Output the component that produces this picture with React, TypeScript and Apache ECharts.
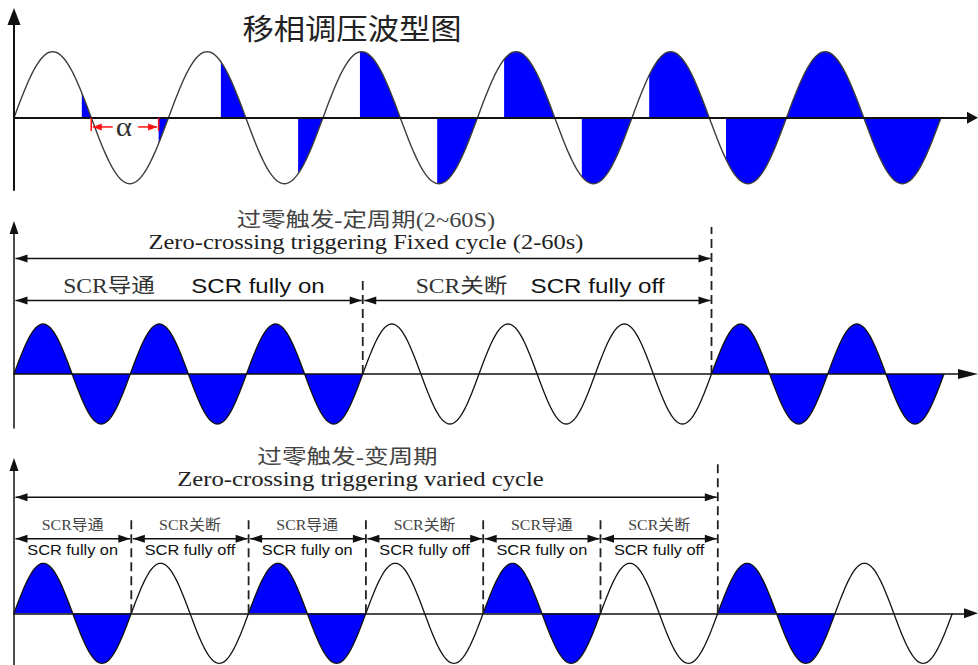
import React, { useEffect, useRef } from "react";
import * as echarts from "echarts";

// ---------------- data ----------------
const phaseTitle = "移相调压波型图";
// firing delay of each half-cycle (degrees); 0 = conducting the whole half-cycle
const phaseFiringAngles = [158, 157, 122, 122, 86, 86, 62, 63, 40, 39, 0, 0];
const alphaLabel = "α";
const alphaHalfCycle = 1;

const fixedTitleCn = "过零触发-定周期(2~60S)";
const fixedTitleEn = "Zero-crossing triggering Fixed cycle (2-60s)";
const fixedCycleOn = [1, 1, 1, 0, 0, 0, 1, 1];
const fixedPeriodCycles = [0, 6];
const fixedSegmentCycles = [
  [0, 3],
  [3, 6],
];
const fixedSegmentCn = ["SCR导通", "SCR关断"];
const fixedSegmentEn = ["SCR fully on", "SCR fully off"];

const variedTitleCn = "过零触发-变周期";
const variedTitleEn = "Zero-crossing triggering varied cycle";
const variedCycleOn = [1, 0, 1, 0, 1, 0, 1, 0];
const variedPeriodCycles = [0, 6];
const variedSegmentCycles = [
  [0, 1],
  [1, 2],
  [2, 3],
  [3, 4],
  [4, 5],
  [5, 6],
];
const variedSegmentCn = ["SCR导通", "SCR关断", "SCR导通", "SCR关断", "SCR导通", "SCR关断"];
const variedSegmentEn = [
  "SCR fully on",
  "SCR fully off",
  "SCR fully on",
  "SCR fully off",
  "SCR fully on",
  "SCR fully off",
];

// ---------------- layout ----------------
const SERIF = '"Liberation Serif", "Noto Sans CJK SC", serif';
const SANS = '"Liberation Sans", "Noto Sans CJK SC", sans-serif';
const CJK = '"Noto Sans CJK SC", sans-serif';
const BLUE = "#0000ff";

const P2 = { topArrow: 2.31, segArrow: 1.47, shortDash: 1.9, longDash: 2.94 };
const P3 = { topArrow: 2.32, segArrow: 1.49, shortDash: 1.92, longDash: 3.0, cnY: 1.78, enY: 1.28 };
const ALPHA = { tick: -0.2, arrow: -0.14 };

function halfCycles(cycles: number[]) {
  const out: number[][] = [];
  cycles.forEach((on, c) => {
    out.push([2 * c, on ? 0 : 1]);
    out.push([2 * c + 1, on ? 0 : 1]);
  });
  return out;
}

function waveRender(stroke: string, lw: number) {
  return (_p: any, api: any) => {
    const k = api.value(0) as number;
    const delay = api.value(1) as number;
    const sign = k % 2 === 0 ? 1 : -1;
    const N = 48;
    const curve: number[][] = [];
    for (let i = 0; i <= N; i++) {
      const t = i / N;
      curve.push(api.coord([k + t, sign * Math.sin(Math.PI * t)]));
    }
    const children: any[] = [];
    if (delay < 1) {
      const pts: number[][] = [];
      for (let i = 0; i <= N; i++) {
        const t = delay + ((1 - delay) * i) / N;
        pts.push(api.coord([k + t, sign * Math.sin(Math.PI * t)]));
      }
      pts.push(api.coord([k + 1, 0]));
      pts.push(api.coord([k + delay, 0]));
      children.push({ type: "polygon", shape: { points: pts }, style: { fill: BLUE, stroke: "none" } });
    }
    children.push({
      type: "polyline",
      shape: { points: curve },
      style: { stroke, lineWidth: lw, fill: "none" },
    });
    return { type: "group", children };
  };
}

function head(tip: number[], dir: number, len: number, w: number, color: string) {
  return {
    type: "polygon",
    shape: {
      points: [
        [tip[0], tip[1]],
        [tip[0] - dir * len, tip[1] - w / 2],
        [tip[0] - dir * len, tip[1] + w / 2],
      ],
    },
    style: { fill: color },
  };
}

function arrowRender(color: string, lw: number, len: number, w: number) {
  return (_p: any, api: any) => {
    const y = api.value(2);
    const p1 = api.coord([api.value(0), y]);
    const p2 = api.coord([api.value(1), y]);
    p1[0] += 1.5;
    p2[0] -= 1;
    return {
      type: "group",
      children: [
        { type: "line", shape: { x1: p1[0], y1: p1[1], x2: p2[0], y2: p2[1] }, style: { stroke: color, lineWidth: lw } },
        head(p1, -1, len, w, color),
        head(p2, 1, len, w, color),
      ],
    };
  };
}

function dashRender(_p: any, api: any) {
  const a = api.coord([api.value(0), 0]);
  const b = api.coord([api.value(0), api.value(1)]);
  return {
    type: "line",
    shape: { x1: a[0], y1: a[1], x2: b[0], y2: b[1] },
    style: { stroke: "#222", lineWidth: 1.8, lineDash: [9, 5] },
  };
}

function alphaRender(_p: any, api: any) {
  const x1 = api.value(0);
  const x2 = api.value(1);
  const red = "#ff1010";
  const a0 = api.coord([x1, 0]);
  const a1 = api.coord([x1, ALPHA.tick]);
  const b0 = api.coord([x2, 0]);
  const b1 = api.coord([x2, ALPHA.tick]);
  const y = api.coord([x1, ALPHA.arrow])[1];
  const lt = [a0[0] + 1.5, y];
  const rt = [b0[0] - 1.5, y];
  return {
    type: "group",
    children: [
      { type: "line", shape: { x1: a0[0], y1: a0[1], x2: a1[0], y2: a1[1] }, style: { stroke: red, lineWidth: 1.5 } },
      { type: "line", shape: { x1: b0[0], y1: b0[1], x2: b1[0], y2: b1[1] }, style: { stroke: red, lineWidth: 1.5 } },
      { type: "line", shape: { x1: lt[0], y1: y, x2: lt[0] + 20, y2: y }, style: { stroke: red, lineWidth: 1.5 } },
      { type: "line", shape: { x1: rt[0] - 19, y1: y, x2: rt[0], y2: y }, style: { stroke: red, lineWidth: 1.5 } },
      head(lt, -1, 9, 7, red),
      head(rt, 1, 9, 7, red),
      {
        type: "text",
        x: (a0[0] + b0[0]) / 2 - 1,
        y: y,
        scaleX: 1.15,
        style: {
          text: alphaLabel,
          font: "27px " + SERIF,
          fill: "#333",
          align: "center",
          verticalAlign: "middle",
          textAlign: "center",
          textVerticalAlign: "middle",
        },
      },
    ],
  };
}

function segLabelRender(cn: string[], en: string[]) {
  return (p: any, api: any) => {
    const i = p.dataIndex;
    const cx = (api.coord([api.value(0), 0])[0] + api.coord([api.value(1), 0])[0]) / 2;
    const yc = api.coord([0, P3.cnY])[1];
    const ye = api.coord([0, P3.enY])[1];
    return {
      type: "group",
      children: [
        {
          type: "text",
          x: cx,
          y: yc,
          scaleX: 1.06,
          style: {
            text: cn[i],
            font: "15px " + SERIF,
            fill: "#444",
            align: "center",
            verticalAlign: "middle",
            textAlign: "center",
            textVerticalAlign: "middle",
          },
        },
        {
          type: "text",
          x: cx,
          y: ye,
          scaleX: 1.09,
          style: {
            text: en[i],
            font: "15px " + SANS,
            fill: "#111",
            align: "center",
            verticalAlign: "middle",
            textAlign: "center",
            textVerticalAlign: "middle",
          },
        },
      ],
    };
  };
}

function txt(text: string, x: number, y: number, font: string, fill: string, scaleX: number) {
  return {
    type: "text",
    x,
    y,
    scaleX,
    silent: true,
    style: {
      text,
      font,
      fill,
      align: "center",
      verticalAlign: "middle",
      textAlign: "center",
      textVerticalAlign: "middle",
    },
  };
}

function axisPair(gi: number, xMax: number, yMin: number, yMax: number, lw: number, xArrow: number[], yArrow: number[]) {
  const common = {
    gridIndex: gi,
    type: "value",
    axisTick: { show: false },
    axisLabel: { show: false },
    splitLine: { show: false },
  };
  return {
    x: {
      ...common,
      min: 0,
      max: xMax,
      z: 5,
      axisLine: { show: true, onZero: true, symbol: ["none", "triangle"], symbolSize: xArrow, lineStyle: { color: "#111", width: lw } },
    },
    y: {
      ...common,
      min: yMin,
      max: yMax,
      z: 5,
      axisLine: { show: true, onZero: true, symbol: ["none", "triangle"], symbolSize: yArrow, lineStyle: { color: "#111", width: lw } },
    },
  };
}

export default function App() {
  const ref = useRef<HTMLDivElement>(null);

  useEffect(() => {
    document.body.style.margin = "0";
    if (!ref.current) return;
    const chart = echarts.init(ref.current, undefined, { renderer: "svg" });

    const a1 = axisPair(0, 958.5 / 77.25, -1.095, 1.533, 2, [12, 11], [13, 17]);
    const a2 = axisPair(1, 954 / 58.125, -1.08, 2.93, 1.5, [10, 20], [9, 13]);
    const a3 = axisPair(2, 957 / 58.65, -1.034, 2.976, 1.5, [10, 14], [9, 13]);

    const fixedArrows = [
      [fixedPeriodCycles[0] * 2, fixedPeriodCycles[1] * 2, P2.topArrow],
      ...fixedSegmentCycles.map(([a, b]) => [a * 2, b * 2, P2.segArrow]),
    ];
    const fixedDashes = fixedSegmentCycles.map(([, b]) => [b * 2, b === fixedPeriodCycles[1] ? P2.longDash : P2.shortDash]);
    const variedArrows = [
      [variedPeriodCycles[0] * 2, variedPeriodCycles[1] * 2, P3.topArrow],
      ...variedSegmentCycles.map(([a, b]) => [a * 2, b * 2, P3.segArrow]),
    ];
    const variedDashes = variedSegmentCycles.map(([, b]) => [b * 2, b === variedPeriodCycles[1] ? P3.longDash : P3.shortDash]);

    const option: any = {
      animation: false,
      grid: [
        { left: 14, top: 16.5, width: 958.5, height: 173.5 },
        { left: 14, top: 227.5, width: 954, height: 200.5 },
        { left: 14, top: 464.5, width: 957, height: 200.5 },
      ],
      xAxis: [a1.x, a2.x, a3.x],
      yAxis: [a1.y, a2.y, a3.y],
      graphic: [
        txt(phaseTitle, 352, 28, "29px " + CJK, "#222", 1.08),
        txt(fixedTitleCn, 366, 220, "20px " + SERIF, "#444", 1.22),
        txt(fixedTitleEn, 366, 242, "21px " + SERIF, "#222", 1.166),
        txt(fixedSegmentCn[0], 109, 287, "20px " + SERIF, "#333", 1.18),
        txt(fixedSegmentEn[0], 258, 286, "20px " + SANS, "#111", 1.2),
        txt(fixedSegmentCn[1], 461.5, 287, "20px " + SERIF, "#333", 1.18),
        txt(fixedSegmentEn[1], 597.5, 286, "20px " + SANS, "#111", 1.21),
        txt(variedTitleCn, 347.5, 457, "20px " + SERIF, "#444", 1.23),
        txt(variedTitleEn, 360.5, 479, "21px " + SERIF, "#222", 1.176),
      ],
      series: [
        {
          type: "custom",
          xAxisIndex: 0,
          yAxisIndex: 0,
          silent: true,
          renderItem: waveRender("#3c3c3c", 1.4),
          data: phaseFiringAngles.map((deg, k) => [k, deg / 180]),
        },
        {
          type: "custom",
          xAxisIndex: 0,
          yAxisIndex: 0,
          silent: true,
          z: 6,
          renderItem: alphaRender,
          data: [[alphaHalfCycle, alphaHalfCycle + phaseFiringAngles[alphaHalfCycle] / 180]],
        },
        {
          type: "custom",
          xAxisIndex: 1,
          yAxisIndex: 1,
          silent: true,
          renderItem: waveRender("#111", 1.3),
          data: halfCycles(fixedCycleOn),
        },
        {
          type: "custom",
          xAxisIndex: 1,
          yAxisIndex: 1,
          silent: true,
          renderItem: arrowRender("#111", 1.5, 12, 8),
          data: fixedArrows,
        },
        {
          type: "custom",
          xAxisIndex: 1,
          yAxisIndex: 1,
          silent: true,
          renderItem: dashRender,
          data: fixedDashes,
        },
        {
          type: "custom",
          xAxisIndex: 2,
          yAxisIndex: 2,
          silent: true,
          renderItem: waveRender("#111", 1.3),
          data: halfCycles(variedCycleOn),
        },
        {
          type: "custom",
          xAxisIndex: 2,
          yAxisIndex: 2,
          silent: true,
          renderItem: arrowRender("#111", 1.5, 12, 8),
          data: variedArrows,
        },
        {
          type: "custom",
          xAxisIndex: 2,
          yAxisIndex: 2,
          silent: true,
          renderItem: dashRender,
          data: variedDashes,
        },
        {
          type: "custom",
          xAxisIndex: 2,
          yAxisIndex: 2,
          silent: true,
          renderItem: segLabelRender(variedSegmentCn, variedSegmentEn),
          data: variedSegmentCycles.map(([a, b]) => [a * 2, b * 2]),
        },
      ],
    };

    chart.setOption(option);
    return () => chart.dispose();
  }, []);

  return <div ref={ref} style={{ width: 978, height: 665 }} />;
}
